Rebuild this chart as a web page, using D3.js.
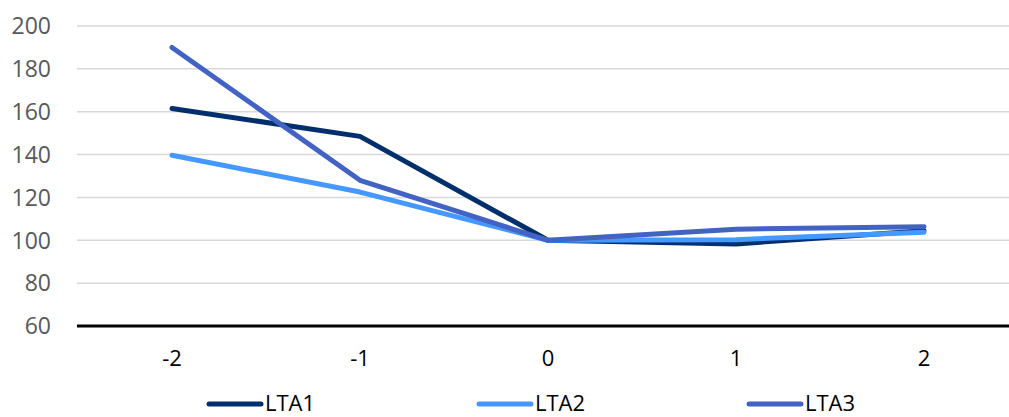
<!DOCTYPE html>
<html>
<head>
<meta charset="utf-8">
<script src="https://d3js.org/d3.v7.min.js"></script>
<style>
  body { margin: 0; background: #fff; font-family: "Open Sans", "Noto Sans", sans-serif; }
  svg { display: block; }
  .grid line { stroke: #d9d9d9; stroke-width: 1.5; }
  .ylab text { fill: #595959; font-size: 23px; }
  .xlab text { fill: #000; font-size: 22px; }
  .legend text { fill: #000; font-size: 22px; }
</style>
</head>
<body>
<script>
// data
var categories = [-2, -1, 0, 1, 2];
var seriesNames = ["LTA1", "LTA2", "LTA3"];
var lta1 = [161.5, 148.5, 100, 98.3, 104.5];
var lta2 = [139.7, 122.5, 100, 100.3, 103.8];
var lta3 = [190, 128, 100, 105.2, 106.3];
var yTicks = [60, 80, 100, 120, 140, 160, 180, 200];
var colors = ["#002f6c", "#4598ff", "#4263c4"];

var width = 1009, height = 417;
var svg = d3.select("body").append("svg").attr("width", width).attr("height", height);

var x = d3.scalePoint().domain(categories).range([78, 1018]).padding(0.5);
var y = d3.scaleLinear().domain([60, 200]).range([326, 26]);

// gridlines
svg.append("g").attr("class", "grid")
  .selectAll("line").data(yTicks.filter(function(d){ return d > 60; }))
  .enter().append("line")
  .attr("x1", 77).attr("x2", width)
  .attr("y1", function(d){ return y(d); })
  .attr("y2", function(d){ return y(d); });

// y labels
svg.append("g").attr("class", "ylab")
  .selectAll("text").data(yTicks).enter().append("text")
  .attr("x", 51).attr("y", function(d){ return y(d); })
  .attr("dy", "0.36em").attr("text-anchor", "end")
  .text(function(d){ return d; });

// x labels
svg.append("g").attr("class", "xlab")
  .selectAll("text").data(categories).enter().append("text")
  .attr("x", function(d){ return x(d); }).attr("y", 366)
  .attr("text-anchor", "middle")
  .text(function(d){ return d; });

// lines
var line = d3.line()
  .x(function(d, i){ return x(categories[i]); })
  .y(function(d){ return y(d); });

var series = [lta1, lta2, lta3];
svg.append("g").selectAll("path").data(series).enter().append("path")
  .attr("d", function(d){ return line(d); })
  .attr("fill", "none")
  .attr("stroke", function(d, i){ return colors[i]; })
  .attr("stroke-width", 5)
  .attr("stroke-linecap", "round")
  .attr("stroke-linejoin", "round");

// x axis line
svg.append("line")
  .attr("x1", 77).attr("x2", width)
  .attr("y1", y(60)).attr("y2", y(60))
  .attr("stroke", "#000").attr("stroke-width", 3);

// legend
var lg = svg.append("g").attr("class", "legend")
  .selectAll("g").data(seriesNames).enter().append("g")
  .attr("transform", function(d, i){ return "translate(" + (209 + i * 270) + ",404)"; });
lg.append("line")
  .attr("x1", 0).attr("x2", 52).attr("y1", 0).attr("y2", 0)
  .attr("stroke", function(d, i){ return colors[i]; })
  .attr("stroke-width", 5).attr("stroke-linecap", "round");
lg.append("text")
  .attr("x", 56).attr("y", 0).attr("dy", "0.34em")
  .text(function(d){ return d; });
</script>
</body>
</html>
